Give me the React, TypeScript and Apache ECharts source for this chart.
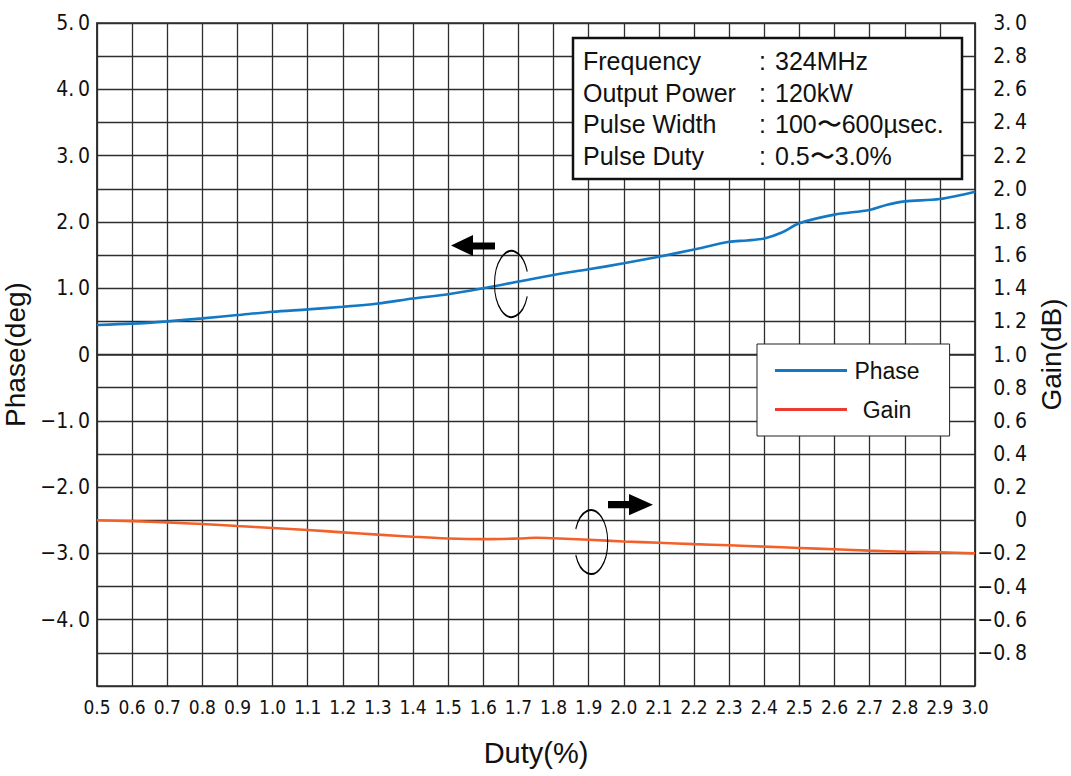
import React, { useEffect, useRef } from "react";
import * as echarts from "echarts";

// Phase (deg) vs Duty (%)
const phaseDuty = [0.5, 0.6, 0.7, 0.8, 0.9, 1.0, 1.1, 1.2, 1.3, 1.4, 1.5, 1.6, 1.7, 1.8, 1.9, 2.0, 2.1, 2.2, 2.3, 2.35, 2.4, 2.45, 2.5, 2.6, 2.7, 2.75, 2.8, 2.9, 3.0];
const phaseValues = [0.445, 0.465, 0.5, 0.545, 0.595, 0.645, 0.68, 0.72, 0.77, 0.845, 0.91, 1.0, 1.1, 1.2, 1.285, 1.375, 1.475, 1.585, 1.7, 1.72, 1.75, 1.84, 1.98, 2.11, 2.18, 2.26, 2.31, 2.345, 2.455];

// Gain (dB) vs Duty (%)
const gainDuty = [0.5, 0.6, 0.7, 0.8, 0.9, 1.0, 1.1, 1.2, 1.3, 1.4, 1.5, 1.6, 1.7, 1.75, 1.8, 1.9, 2.0, 2.1, 2.2, 2.3, 2.4, 2.5, 2.6, 2.7, 2.8, 2.9, 3.0];
const gainValues = [0.0, -0.005, -0.013, -0.023, -0.035, -0.047, -0.059, -0.073, -0.087, -0.1, -0.11, -0.114, -0.11, -0.106, -0.109, -0.118, -0.128, -0.136, -0.144, -0.151, -0.159, -0.167, -0.175, -0.183, -0.19, -0.194, -0.2];

const seriesNames = ["Phase", "Gain"];
const infoLabels = ["Frequency", "Output Power", "Pulse Width", "Pulse Duty"];
const infoValues = ["324MHz", "120kW", "100\u301c600\u00b5sec.", "0.5\u301c3.0%"];

const TICK_FONT = "'Liberation Sans Narrow', 'DejaVu Sans Condensed', 'Liberation Sans', Arial, sans-serif";
const TEXT_FONT = "'Liberation Sans', Arial, sans-serif";

function fmtY(v: number, hideBelow: number): string {
  if (v <= hideBelow + 1e-9) return "";
  if (Math.abs(v) < 1e-9) return "0";
  const s = Math.abs(v).toFixed(1).replace(".", ".\u2009");
  return (v < 0 ? "\u2212" : "") + s;
}

export default function App() {
  const ref = useRef<HTMLDivElement>(null);
  useEffect(() => {
    if (!ref.current) return;
    const chart = echarts.init(ref.current, undefined, { renderer: "svg" });
    const gridColor = "#2e2e2e";
    const Z = 100;
    const option: any = {
      animation: false,
      backgroundColor: "#ffffff",
      grid: {
        left: 97,
        right: 96,
        top: 23,
        bottom: 90,
        containLabel: false,
        outerBoundsMode: "none",
        show: true,
        borderColor: gridColor,
        borderWidth: 1.5,
        backgroundColor: "transparent",
      },
      legend: {
        data: [
          { name: "Phase", itemStyle: { color: "#1379c5" } },
          { name: "Gain", itemStyle: { color: "#ee3a2f" } },
        ],
        orient: "vertical",
        left: 757,
        top: 344,
        backgroundColor: "#ffffff",
        borderColor: "#222",
        borderWidth: 1,
        padding: [15, 30, 15, 18],
        itemGap: 16,
        itemWidth: 72,
        itemHeight: 3,
        icon: "rect",
        formatter: (name: string) => `{c|${name}}`,
        textStyle: {
          fontFamily: TEXT_FONT,
          fontSize: 23,
          color: "#111",
          padding: [0, 0, 0, 2],
          rich: { c: { width: 66, align: "center", fontSize: 23, fontFamily: TEXT_FONT, color: "#111" } },
        },
        z: 20,
      },
      xAxis: {
        type: "value",
        min: 0.5,
        max: 3.0,
        interval: 0.1,
        name: "Duty(%)",
        nameLocation: "middle",
        nameGap: 52,
        nameTextStyle: { fontFamily: TEXT_FONT, fontSize: 29, color: "#111" },
        axisLine: { show: true, lineStyle: { color: gridColor, width: 1.5 } },
        axisTick: { show: false },
        axisLabel: {
          margin: 11,
          fontFamily: TICK_FONT,
          fontSize: 19,
          color: "#111",
          showMinLabel: true,
          showMaxLabel: true,
          formatter: (v: number) => v.toFixed(1),
        },
        splitLine: { show: true, lineStyle: { color: gridColor, width: 1.3 } },
      },
      yAxis: [
        {
          type: "value",
          position: "left",
          min: -5,
          max: 5,
          interval: 1,
          name: "Phase(deg)",
          nameLocation: "middle",
          nameGap: 48,
          nameTextStyle: { fontFamily: TEXT_FONT, fontSize: 28, color: "#111" },
          axisLine: { show: true, lineStyle: { color: gridColor, width: 1.5 } },
          axisTick: { show: false },
          axisLabel: {
            margin: 7,
            fontFamily: TICK_FONT,
            fontSize: 21,
            color: "#111",
            formatter: (v: number) => fmtY(v, -5),
          },
          splitLine: { show: false },
        },
        {
          type: "value",
          position: "right",
          min: -1,
          max: 3,
          interval: 0.2,
          name: "Gain(dB)",
          nameLocation: "middle",
          nameGap: 62,
          nameTextStyle: { fontFamily: TEXT_FONT, fontSize: 28, color: "#111" },
          axisLine: { show: true, lineStyle: { color: gridColor, width: 1.5 } },
          axisTick: { show: false },
          axisLabel: {
            margin: 52,
            align: "right",
            fontFamily: TICK_FONT,
            fontSize: 21,
            color: "#111",
            formatter: (v: number) => fmtY(v, -1),
          },
          splitLine: { show: true, lineStyle: { color: gridColor, width: 1.3 } },
        },
      ],
      series: [
        {
          name: seriesNames[0],
          type: "line",
          yAxisIndex: 0,
          smooth: 0.3,
          showSymbol: false,
          symbol: "none",
          lineStyle: { color: "#1379c5", width: 2.6 },
          itemStyle: { color: "#1379c5" },
          data: phaseDuty.map((d, i) => [d, phaseValues[i]]),
          z: 5,
        },
        {
          name: seriesNames[1],
          type: "line",
          yAxisIndex: 1,
          smooth: 0.3,
          showSymbol: false,
          symbol: "none",
          lineStyle: { color: "#f2612a", width: 2.6 },
          itemStyle: { color: "#f2612a" },
          data: gainDuty.map((d, i) => [d, gainValues[i]]),
          z: 5,
        },
      ],
      graphic: [
        {
          type: "rect",
          z: Z,
          shape: { x: 573, y: 38, width: 389, height: 141 },
          style: { fill: "#ffffff", stroke: "#111", lineWidth: 2.5 },
        },
        ...infoLabels.flatMap((lab, i) => [
          {
            type: "text",
            z: Z + 1,
            x: 583,
            y: 61 + i * 31.7,
            style: { text: lab, fontFamily: TEXT_FONT, fontSize: 25, fill: "#111", verticalAlign: "middle" },
          },
          {
            type: "text",
            z: Z + 1,
            x: 759,
            y: 61 + i * 31.7,
            style: { text: ":", fontFamily: TEXT_FONT, fontSize: 25, fill: "#111", verticalAlign: "middle" },
          },
          {
            type: "text",
            z: Z + 1,
            x: 775,
            y: 61 + i * 31.7,
            style: { text: infoValues[i], fontFamily: TEXT_FONT, fontSize: 25, fill: "#111", verticalAlign: "middle" },
          },
        ]),
        {
          type: "polygon",
          z: Z,
          shape: {
            points: [
              [451, 245.5], [473, 235], [473, 242.5], [495, 242.5], [495, 249.5], [473, 249.5], [473, 256],
            ],
          },
          style: { fill: "#000" },
        },
        {
          type: "arc",
          z: Z,
          x: 511.5,
          y: 284,
          scaleX: 17 / 33,
          shape: { cx: 0, cy: 0, r: 33, startAngle: (22 * Math.PI) / 180, endAngle: (338 * Math.PI) / 180, clockwise: true },
          style: { stroke: "#000", lineWidth: 2, fill: null, strokeNoScale: true },
        },
        {
          type: "polygon",
          z: Z,
          shape: {
            points: [
              [653, 504.7], [629, 494], [629, 501], [608, 501], [608, 508.3], [629, 508.3], [629, 515.3],
            ],
          },
          style: { fill: "#000" },
        },
        {
          type: "arc",
          z: Z,
          x: 591,
          y: 542,
          scaleX: 16.7 / 32,
          shape: { cx: 0, cy: 0, r: 32, startAngle: (204 * Math.PI) / 180, endAngle: (516 * Math.PI) / 180, clockwise: true },
          style: { stroke: "#000", lineWidth: 2, fill: null, strokeNoScale: true },
        },
      ],
    };
    chart.setOption(option);
    return () => chart.dispose();
  }, []);
  return (
    <div
      ref={ref}
      style={{ position: "fixed", left: 0, top: 0, width: 1071, height: 776, background: "#fff" }}
    />
  );
}
